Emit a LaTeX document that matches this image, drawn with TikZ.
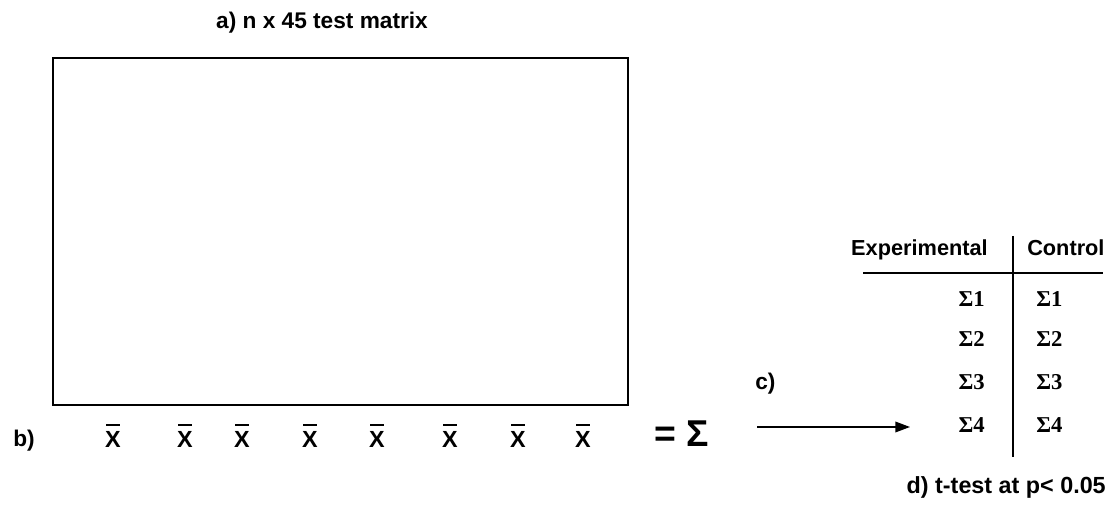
\documentclass[tikz,border=0pt]{standalone}
\usepackage{fontspec}
\setmainfont{Liberation Sans}
\newfontfamily\tnrfont{Liberation Serif}
\usetikzlibrary{arrows.meta}
\newcommand\xbarsym{\ooalign{X\cr\hidewidth\rule[0.9em]{0.6em}{0.1em}\hidewidth\cr}}
\begin{document}
\begin{tikzpicture}[x=0.75pt,y=-0.75pt,
  lbl/.style={inner sep=0pt,font=\fontsize{17}{19}\selectfont\bfseries},
  hdr/.style={inner sep=0pt,font=\fontsize{16.3}{19}\selectfont\bfseries},
  xb/.style={inner sep=0pt,anchor=base,font=\fontsize{17.5}{19}\selectfont\bfseries},
  sig/.style={inner sep=0pt,font=\fontsize{17}{19}\selectfont\tnrfont\bfseries},
  rule/.style={line width=1.3pt,black},
  arr/.style={line width=1pt,-{Triangle[length=11pt,width=8pt]}}]
\useasboundingbox (0,0) rectangle (1115,506);
% title
\node[lbl,anchor=base] (title) at (322,29) {a) n x 45 test matrix};
% matrix box
\draw[rule] (53,58) rectangle (628,405);
% row b
\node[lbl,anchor=base west] (b) at (13,446) {b)};
\foreach \i/\x in {1/113,2/185,3/242,4/310,5/377,6/450,7/518,8/583}{
  \node[xb] (x\i) at (\x,447) {\xbarsym};
}
\node[inner sep=0pt,anchor=base west,font=\fontsize{28}{30}\selectfont\bfseries] (eqs) at (654,446) {= Σ};
% arrow
\coordinate (arrS) at (757,427);
\coordinate (arrE) at (910,427);
\draw[arr] (arrS) -- (arrE);
% c)
\node[lbl,anchor=base west] (c) at (755,389) {c)};
% table header
\node[hdr,anchor=base east] (exp) at (988,256) {Experimental};
\node[hdr,anchor=base west] (ctl) at (1027,256) {Control};
\draw[line width=0.9pt] (863,273) -- (1103,273);
\draw[line width=0.9pt] (1013,236) -- (1013,457);
\foreach \i/\y in {1/306,2/347,3/389,4/432}{
  \node[sig,anchor=base east] (e\i) at (985,\y) {Σ\i};
  \node[sig,anchor=base west] (k\i) at (1036,\y) {Σ\i};
}
% d)
\node[lbl,anchor=base east,font=\fontsize{17.5}{19}\selectfont\bfseries] (d) at (1106,493) {d) t-test at p< 0.05};
\end{tikzpicture}
\end{document}
